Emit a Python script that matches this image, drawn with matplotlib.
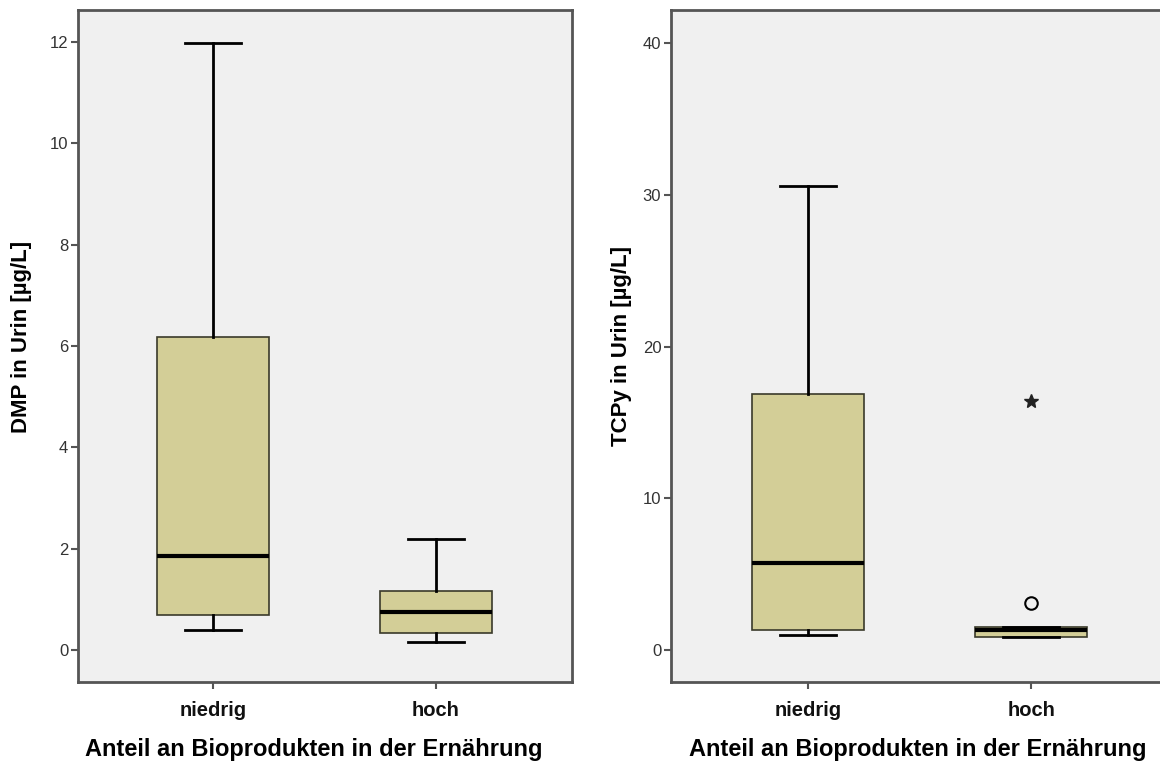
import matplotlib
matplotlib.use("Agg")
import matplotlib.pyplot as plt

categories = ["niedrig", "hoch"]
xlabel = "Anteil an Bioprodukten in der Ernährung"

# Left panel: DMP
dmp_label = "DMP in Urin [µg/L]"
dmp_whislo = [0.40, 0.16]
dmp_q1 = [0.69, 0.33]
dmp_med = [1.86, 0.76]
dmp_q3 = [6.18, 1.16]
dmp_whishi = [11.97, 2.19]
dmp_yticks = [0, 2, 4, 6, 8, 10, 12]

# Right panel: TCPy
tcpy_label = "TCPy in Urin [µg/L]"
tcpy_whislo = [1.0, 0.85]
tcpy_q1 = [1.32, 0.86]
tcpy_med = [5.72, 1.3]
tcpy_q3 = [16.9, 1.52]
tcpy_whishi = [30.6, 1.52]
tcpy_outliers_circle = [[], [3.1]]
tcpy_outliers_star = [[], [16.4]]
tcpy_yticks = [0, 10, 20, 30, 40]

plt.rcParams['font.family'] = ['Liberation Sans', 'DejaVu Sans']

fig = plt.figure(figsize=(11.6, 7.61), dpi=100)
W, H = 1160, 761
ax1 = fig.add_axes([78 / W, (H - 682) / H, 494 / W, 672 / H])
ax2 = fig.add_axes([671 / W, (H - 682) / H, 494 / W, 672 / H])

fill = "#D3CE97"
bg = "#F0F0F0"


def make_stats(lo, q1, med, q3, hi):
    return [dict(whislo=lo[i], q1=q1[i], med=med[i], q3=q3[i], whishi=hi[i],
                 fliers=[], label=categories[i]) for i in range(len(lo))]


def draw(ax, stats, ylim, xlim, yticks, ylabel):
    ax.set_facecolor(bg)
    ax.bxp(stats, positions=[1, 2], widths=0.5, patch_artist=True,
           showfliers=False,
           boxprops=dict(facecolor=fill, edgecolor="#3a3a2a", linewidth=1.2),
           medianprops=dict(color="black", linewidth=3.0, solid_capstyle="butt"),
           whiskerprops=dict(color="black", linewidth=2.0),
           capprops=dict(color="black", linewidth=2.0),
           capwidths=0.25)
    ax.set_ylim(*ylim)
    ax.set_xlim(*xlim)
    ax.set_yticks(yticks)
    ax.set_xticks([1, 2])
    ax.set_xticklabels(categories, fontsize=14.5, fontweight="bold")
    ax.tick_params(axis="y", labelsize=12, length=5, width=1.5,
                   colors="#555555", labelcolor="#333333", pad=2)
    ax.tick_params(axis="x", length=5, width=1.5, colors="#555555",
                   labelcolor="#111111", pad=9)
    for s in ax.spines.values():
        s.set_color("#555555")
        s.set_linewidth(2.0)
    ax.set_xlabel(xlabel, fontsize=17, fontweight="bold", labelpad=12)
    ax.set_ylabel(ylabel, fontsize=16, fontweight="bold", labelpad=8)


draw(ax1, make_stats(dmp_whislo, dmp_q1, dmp_med, dmp_q3, dmp_whishi),
     (-0.63, 12.63), (0.395, 2.61), dmp_yticks, dmp_label)
draw(ax2, make_stats(tcpy_whislo, tcpy_q1, tcpy_med, tcpy_q3, tcpy_whishi),
     (-2.11, 42.2), (0.386, 2.60), tcpy_yticks, tcpy_label)

ax1.xaxis.set_label_coords(0.478, -0.084)
ax2.xaxis.set_label_coords(0.50, -0.084)
ax1.yaxis.set_label_coords(-0.093, 0.513)

for i, vals in enumerate(tcpy_outliers_circle):
    for v in vals:
        ax2.plot(i + 1, v, marker="o", markersize=9, markerfacecolor="none",
                 markeredgecolor="black", markeredgewidth=1.5, linestyle="none")
for i, vals in enumerate(tcpy_outliers_star):
    for v in vals:
        ax2.plot(i + 1, v, marker="*", markersize=10, color="#222222",
                 linestyle="none")

fig.savefig("out.png", dpi=100)
